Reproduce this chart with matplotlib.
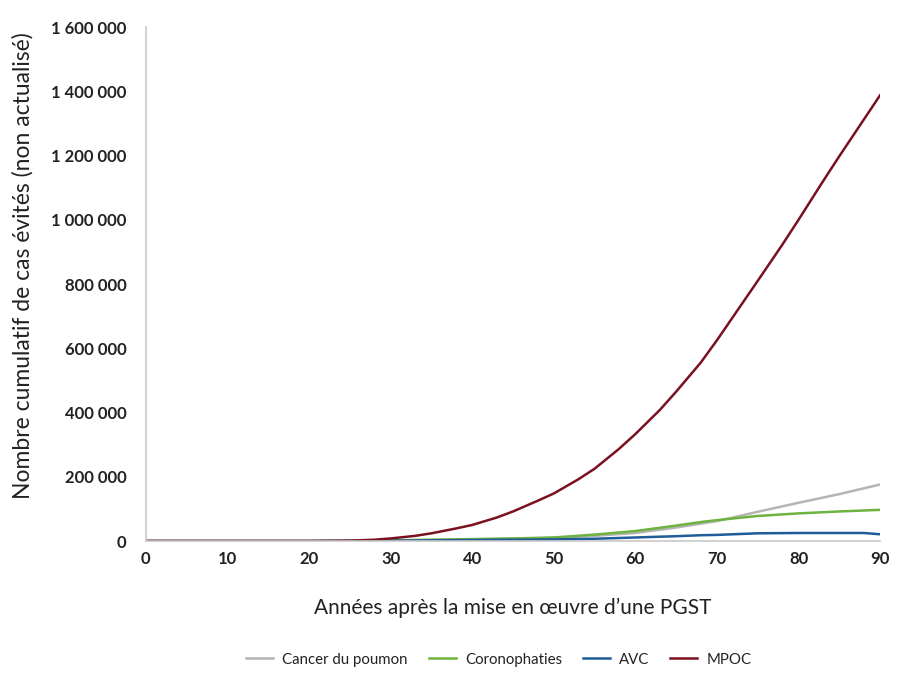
import matplotlib
matplotlib.use("Agg")
import matplotlib.pyplot as plt
from matplotlib.ticker import FuncFormatter, MultipleLocator

plt.rcParams['font.family'] = ['Lato', 'DejaVu Sans']

# Data
years_mpoc = [0, 5, 10, 15, 20, 25, 28, 30, 33, 35, 38, 40, 43, 45, 48, 50, 53, 55,
              58, 60, 63, 65, 68, 70, 73, 75, 78, 80, 83, 85, 88, 90]
mpoc = [0, 0, 0, 0, 0, 1000, 4000, 8000, 16000, 24000, 39000, 50000, 73000, 92000,
        125000, 148000, 192000, 225000, 287000, 333000, 408000, 465000, 555000, 625000,
        736000, 810000, 922000, 1000000, 1120000, 1198000, 1312000, 1388000]

years_other = [0, 5, 10, 15, 20, 25, 30, 35, 40, 45, 50, 55, 60, 65, 68, 70, 75, 80, 85, 88, 90]
cancer = [0, 0, 0, 0, 0, 500, 1500, 3000, 5000, 7000, 10000, 16000, 25000, 42000, 54000,
          62000, 91000, 119000, 146000, 164000, 176000]
coronaro = [0, 0, 0, 0, 0, 500, 2000, 4000, 6000, 8000, 11000, 20000, 31000, 48000, 59000,
            65000, 78000, 86000, 92000, 95000, 97000]
avc = [0, 0, 0, 0, 0, 300, 1000, 2000, 3000, 4000, 5000, 7000, 11000, 15000, 18000,
       19000, 24000, 25000, 25000, 25000, 21000]

series = [
    ("Cancer du poumon", years_other, cancer, "#b5b5b5"),
    ("Coronophaties", years_other, coronaro, "#6cb33f"),
    ("AVC", years_other, avc, "#1f5c99"),
    ("MPOC", years_mpoc, mpoc, "#7b1020"),
]

fig = plt.figure(figsize=(9.12, 6.87), dpi=100)
ax = fig.add_axes([0.160, 0.2125, 0.805, 0.748])

for name, xs, ys, col in series:
    ax.plot(xs, ys, color=col, lw=1.8, label=name, solid_joinstyle='round')

ax.set_xlim(0, 90)
ax.set_ylim(0, 1600000)
ax.xaxis.set_major_locator(MultipleLocator(10))
ax.yaxis.set_major_locator(MultipleLocator(200000))

def fmt(v, pos):
    return f"{int(v):,}".replace(",", " ")
ax.yaxis.set_major_formatter(FuncFormatter(fmt))

for s in ["top", "right"]:
    ax.spines[s].set_visible(False)
for s in ["left", "bottom"]:
    ax.spines[s].set_color("#c8c8c8")
    ax.spines[s].set_linewidth(1.2)

ax.tick_params(axis='both', length=0, labelsize=12, colors="#222222")
ax.tick_params(axis='x', pad=7)
ax.tick_params(axis='y', pad=14)
for lab in ax.get_xticklabels() + ax.get_yticklabels():
    lab.set_fontweight('bold')

ax.set_xlabel("Années après la mise en œuvre d’une PGST", fontsize=15, color="#222222",
              labelpad=22)
ax.set_ylabel("Nombre cumulatif de cas évités (non actualisé)", fontsize=16.5, color="#222222")
ax.yaxis.set_label_coords(-0.153, 0.535)

leg = fig.legend(loc="center", bbox_to_anchor=(0.547, 0.04), ncol=4, frameon=False,
                 fontsize=10.8, handlelength=1.8, columnspacing=1.4, handletextpad=0.6)
for t in leg.get_texts():
    t.set_color("#222222")

fig.savefig("out.png", dpi=100, facecolor="white")
